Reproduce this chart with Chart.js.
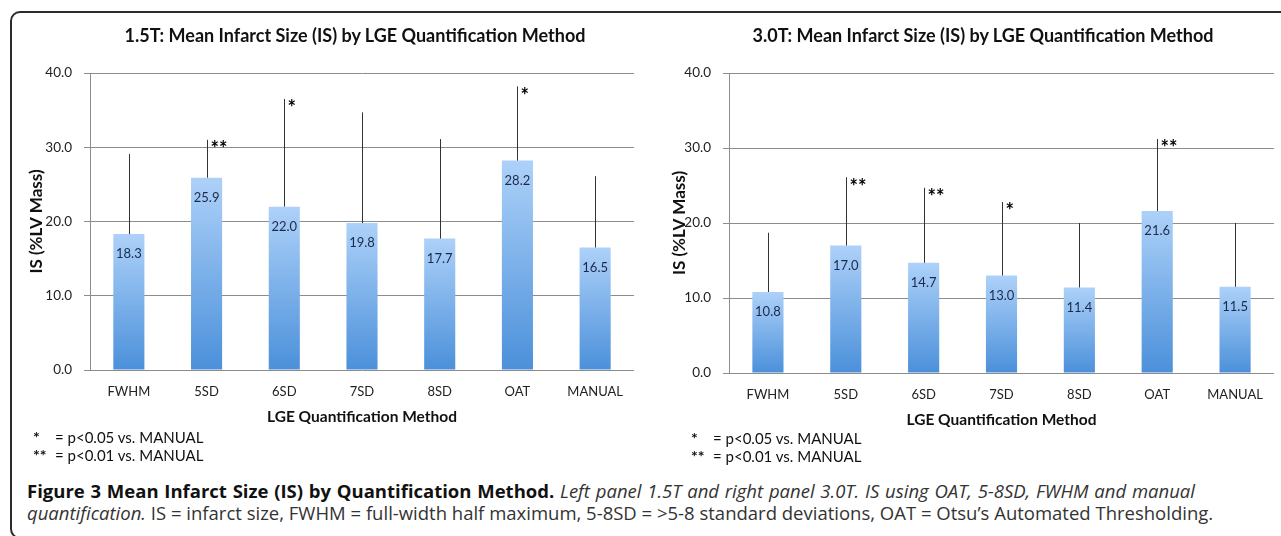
<!DOCTYPE html>
<html>
<head>
<meta charset="utf-8">
<script src="https://cdn.jsdelivr.net/npm/chart.js@4.4.1/dist/chart.umd.min.js"></script>
<style>
  body { margin: 0; background: #fff; width: 1281px; height: 536px; overflow: hidden; position: relative; font-family: Lato, sans-serif; }
  .frame { position: absolute; left: 10px; top: 11px; width: 1320px; height: 524px; border: 2px solid #2b2b2b; border-radius: 10px; }
  .panel { position: absolute; width: 640px; height: 430px; }
  #leftWrap { left: 0; top: 0; }
  #rightWrap { left: 640px; top: 3px; }
  .ptitle { position: absolute; top: 24px; width: 600px; margin-left: -300px; text-align: center; font: bold 18px Lato, sans-serif; color: #111; line-height: 22px; }
  .note { position: absolute; font-size: 15px; color: #111; white-space: nowrap; line-height: 18px; }
  .note b { position: absolute; left: 0; font-weight: 700; font-size: 16px; }
  .note span { position: absolute; }
  .caption { position: absolute; left: 27px; font-family: 'Open Sans', sans-serif; font-size: 18.5px; color: #333; white-space: nowrap; line-height: 20px; text-align: justify; text-align-last: justify; }
  .caption strong { color: #111; }
</style>
</head>
<body>
<div class="frame"></div>
<div class="panel" id="leftWrap"><canvas id="chart15"></canvas></div>
<div class="panel" id="rightWrap"><canvas id="chart30"></canvas></div>
<div class="ptitle" style="left:355px">1.5T: Mean Infarct Size (IS) by LGE Quantification Method</div>
<div class="ptitle" style="left:983px">3.0T: Mean Infarct Size (IS) by LGE Quantification Method</div>

<div class="note" style="left:33px;top:428px"><b>*</b><span style="left:22px">= p&lt;0.05 vs. MANUAL</span></div>
<div class="note" style="left:33px;top:446px"><b>**</b><span style="left:22px">= p&lt;0.01 vs. MANUAL</span></div>
<div class="note" style="left:691px;top:429px"><b>*</b><span style="left:22px">= p&lt;0.05 vs. MANUAL</span></div>
<div class="note" style="left:691px;top:447px"><b>**</b><span style="left:22px">= p&lt;0.01 vs. MANUAL</span></div>

<div class="caption" style="top:481px;width:1168px"><strong>Figure 3 Mean Infarct Size (IS) by Quantification Method.</strong> <em>Left panel 1.5T and right panel 3.0T. IS using OAT, 5-8SD, FWHM and manual</em></div>
<div class="caption" style="top:503px;width:1183px"><em>quantification.</em> IS = infarct size, FWHM = full-width half maximum, 5-8SD = &gt;5-8 standard deviations, OAT = Otsu’s Automated Thresholding.</div>

<script>
// values
const methods = ['FWHM', '5SD', '6SD', '7SD', '8SD', 'OAT', 'MANUAL'];

const mean15 = [18.3, 25.9, 22.0, 19.8, 17.7, 28.2, 16.5];
const upper15 = [29.1, 31.0, 36.5, 34.7, 31.1, 38.2, 26.1];
const marks15 = ['', '**', '*', '', '', '*', ''];

const mean30 = [10.8, 17.0, 14.7, 13.0, 11.4, 21.6, 11.5];
const upper30 = [18.7, 26.1, 24.7, 22.8, 20.0, 31.2, 20.0];
const marks30 = ['', '**', '**', '*', '', '**', ''];

const yMin = 0, yMax = 40, yStep = 10;

// error bars, value labels and significance stars
const decor = {
    id: 'decor',
    afterDatasetsDraw(chart, args, opts) {
        const ctx = chart.ctx;
        const y = chart.scales.y;
        const bars = chart.getDatasetMeta(0).data;
        const values = chart.data.datasets[0].data;
        ctx.save();
        bars.forEach((bar, i) => {
            const x = Math.round(bar.x) + 0.5;
            const top = y.getPixelForValue(opts.upper[i]);
            ctx.strokeStyle = '#333';
            ctx.lineWidth = 1;
            ctx.beginPath();
            ctx.moveTo(x, bar.y);
            ctx.lineTo(x, top);
            ctx.stroke();

            ctx.fillStyle = '#1c2a4a';
            ctx.font = '13px Lato';
            ctx.textAlign = 'center';
            ctx.textBaseline = 'middle';
            ctx.fillText(values[i].toFixed(1), bar.x, bar.y + 20);

            if (opts.marks[i]) {
                ctx.fillStyle = '#000';
                ctx.font = 'bold 20px Lato';
                ctx.textAlign = 'left';
                ctx.fillText(opts.marks[i], x + 3, top + 10);
            }
        });
        ctx.restore();
    }
};

function barFill(c) {
    const chart = c.chart;
    if (!chart.chartArea || c.dataIndex === undefined) return '#7fb2ec';
    const y = chart.scales.y;
    const v = c.dataset.data[c.dataIndex];
    const g = chart.ctx.createLinearGradient(0, y.getPixelForValue(v), 0, y.getPixelForValue(0));
    g.addColorStop(0, '#add1f9');
    g.addColorStop(1, '#4b90da');
    return g;
}

function makeChart(id, values, upper, marks, padLeft, yWidth, padTop) {
    const ctx = document.getElementById(id).getContext('2d');
    return new Chart(ctx, {
        type: 'bar',
        data: {
            labels: methods,
            datasets: [{
                data: values,
                backgroundColor: barFill,
                borderWidth: 0,
                categoryPercentage: 1,
                barPercentage: 0.4
            }]
        },
        options: {
            responsive: false,
            animation: false,
            layout: { padding: { left: padLeft, right: 6, top: padTop, bottom: 4 } },
            plugins: {
                legend: { display: false },
                tooltip: { enabled: false },
                title: { display: false },
                decor: { upper: upper, marks: marks }
            },
            scales: {
                x: {
                    grid: { display: false },
                    border: { display: false },
                    ticks: { color: '#222', font: { family: 'Lato', size: 13 }, padding: 6 },
                    title: {
                        display: true,
                        text: 'LGE Quantification Method',
                        color: '#111',
                        font: { family: 'Lato', size: 15.5, weight: 'bold' },
                        padding: { top: 4, bottom: 0 }
                    },
                    afterFit: s => { s.height = 56; }
                },
                y: {
                    min: yMin,
                    max: yMax,
                    ticks: {
                        stepSize: yStep,
                        color: '#222',
                        font: { family: 'Lato', size: 13.5 },
                        padding: 12,
                        callback: v => Number(v).toFixed(1)
                    },
                    grid: { color: '#8c8c8c', lineWidth: 1, tickLength: 6 },
                    border: { display: true, color: '#8c8c8c' },
                    title: {
                        display: true,
                        text: 'IS (%LV Mass)',
                        color: '#111',
                        font: { family: 'Lato', size: 17, weight: 'bold' },
                        padding: { top: 0, bottom: 0 }
                    },
                    afterFit: s => { s.width = yWidth; }
                }
            }
        },
        plugins: [decor]
    });
}

function sizeCanvas(id) {
    const c = document.getElementById(id);
    c.width = 640;
    c.height = 430;
    c.style.width = '640px';
    c.style.height = '430px';
}

sizeCanvas('chart15');
sizeCanvas('chart30');
makeChart('chart15', mean15, upper15, marks15, 26, 64, 73);
makeChart('chart30', mean30, upper30, marks30, 29, 60, 70);
</script>
</body>
</html>
